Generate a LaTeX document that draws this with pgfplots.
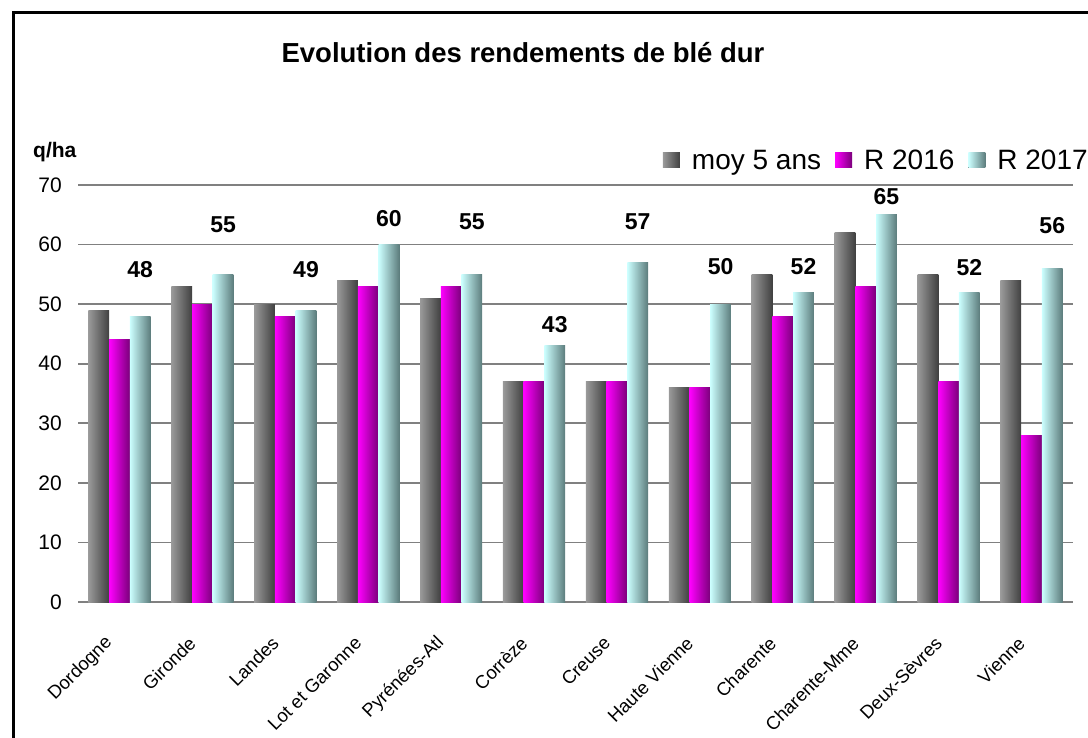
\documentclass[border=0pt]{standalone}
\usepackage{fontspec}
\setmainfont{Liberation Sans}
\usepackage{pgfplots}
\pgfplotsset{compat=1.18}
\definecolor{grL}{HTML}{9A9A9A}
\definecolor{grR}{HTML}{404040}
\definecolor{mgL}{HTML}{FF00FF}
\definecolor{mgR}{HTML}{7A007A}
\definecolor{cyL}{HTML}{CCFFFF}
\definecolor{cyR}{HTML}{5C7C7C}
\definecolor{gridc}{HTML}{808080}

\begin{document}
\begin{tikzpicture}
\useasboundingbox (0pt,0pt) rectangle (1088pt,-738pt);
\draw[line width=3pt] (13pt,-738pt) -- (13pt,-13pt) -- (1088pt,-13pt);
\node[anchor=base, font=\fontsize{27.5}{27.5}\selectfont\bfseries] at (523pt,-63pt) {Evolution des rendements de blé dur};
\node[anchor=base west, font=\fontsize{21}{21}\selectfont\bfseries, inner sep=0pt] at (33pt,-158pt) {q/ha};
\begin{axis}[
  at={(78pt,-602pt)}, anchor=south west,
  scale only axis,
  width=995pt, height=417pt,
  xmin=-0.5, xmax=11.5,
  ymin=0, ymax=70,
  ytick={0,10,...,70},
  xtick={0,...,11},
  xticklabels={Dordogne,Gironde,Landes,Lot et Garonne,Pyrénées-Atl,Corrèze,Creuse,Haute Vienne,Charente,Charente-Mme,Deux-Sèvres,Vienne},
  xticklabel style={font=\fontsize{18.5}{18.5}\selectfont, inner sep=0pt, xshift=-10pt, yshift=-38pt, rotate=45, anchor=east},
  yticklabel style={font=\fontsize{21}{21}\selectfont, inner sep=0pt, xshift=-16pt},
  /pgf/number format/assume math mode=true,
  ymajorgrids=true,
  grid style={gridc, line width=1.8pt},
  axis line style={draw=none},
  tick style={draw=none},
  clip=false,
  legend columns=-1,
  legend style={at={(1.015,1.058)}, anchor=east, draw=none, fill=none, inner sep=0pt,
    font=\fontsize{28}{28}\selectfont, nodes={inner sep=0pt},
    /tikz/every odd column/.append style={column sep=12pt},
    /tikz/every even column/.append style={column sep=14pt}},
]
% moy 5 ans
\pgfplotsforeachungrouped \i/\v in {0/49,1/53,2/50,3/54,4/51,5/37,6/37,7/36,8/55,9/62,10/55,11/54}{
  \addplot[forget plot, ybar, bar width=20.7pt, bar shift=-20.7pt, draw=none, left color=grL, right color=grR]
  coordinates {(\i,\v)};
}
% R 2016
\pgfplotsforeachungrouped \i/\v in {0/44,1/50,2/48,3/53,4/53,5/37,6/37,7/36,8/48,9/53,10/37,11/28}{
  \addplot[forget plot, ybar, bar width=20.7pt, bar shift=0pt, draw=none, left color=mgL, right color=mgR]
  coordinates {(\i,\v)};
}
% R 2017
\pgfplotsforeachungrouped \i/\v in {0/48,1/55,2/49,3/60,4/55,5/43,6/57,7/50,8/52,9/65,10/52,11/56}{
  \addplot[forget plot, ybar, bar width=20.7pt, bar shift=20.7pt, draw=none, left color=cyL, right color=cyR]
  coordinates {(\i,\v)};
}
\addlegendimage{draw=none, legend image code/.code={\fill[draw=none, left color=grL, right color=grR] (0pt,-7pt) rectangle (17pt,8pt);}}
\addlegendentry{moy 5 ans}
\addlegendimage{draw=none, legend image code/.code={\fill[draw=none, left color=mgL, right color=mgR] (0pt,-7pt) rectangle (17pt,8pt);}}
\addlegendentry{R 2016}
\addlegendimage{draw=none, legend image code/.code={\fill[draw=none, left color=cyL, right color=cyR] (0pt,-7pt) rectangle (17pt,8pt);}}
\addlegendentry{R 2017}
% data labels of R 2017, set above the bars
\addplot[forget plot, only marks, mark=*, mark size=0pt, mark options={draw=none, fill=none},
  nodes near coords, point meta=explicit symbolic,
  nodes near coords style={anchor=center, font=\fontsize{23}{23}\selectfont\bfseries, inner sep=0pt}]
coordinates {
  (0.25,55.8) [48] (1.25,63.3) [55] (2.25,55.8) [49] (3.25,64.3) [60]
  (4.25,63.8) [55] (5.25,46.5) [43] (6.25,63.8) [57] (7.25,56.3) [50]
  (8.25,56.3) [52] (9.25,68.0) [65] (10.25,56.2) [52] (11.25,63.2) [56]
};
\end{axis}
\end{tikzpicture}
\end{document}
